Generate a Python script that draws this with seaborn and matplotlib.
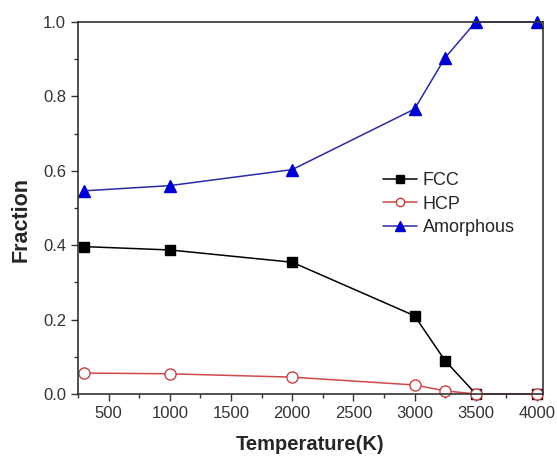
import matplotlib
matplotlib.use("Agg")
import matplotlib.pyplot as plt
import seaborn as sns
import pandas as pd
from matplotlib.ticker import MultipleLocator, FormatStrFormatter

temperature = [300, 1000, 2000, 3000, 3250, 3500, 4000]
fcc = [0.396, 0.387, 0.354, 0.210, 0.089, 0.0, 0.0]
hcp = [0.056, 0.054, 0.045, 0.024, 0.008, 0.0, 0.0]
amorphous = [0.546, 0.560, 0.603, 0.766, 0.904, 1.0, 1.0]

sns.set_style("ticks")
plt.rcParams['font.family'] = ['Liberation Sans', 'DejaVu Sans']

fig = plt.figure(figsize=(5.57, 4.58), dpi=100)
ax = fig.add_axes([0.140, 0.140, 0.835, 0.812])

series = [
    ("FCC", fcc, dict(color="black", marker="s", markersize=7, markerfacecolor="black",
                      markeredgecolor="black")),
    ("HCP", hcp, dict(color="#d04848", marker="o", markersize=8, markerfacecolor="white",
                      markeredgecolor="#c84040")),
    ("Amorphous", amorphous, dict(color="#2a2aa8", marker="^", markersize=9,
                                  markerfacecolor="#0000d0", markeredgecolor="#0000d0")),
]
for name, vals, kw in series:
    df = pd.DataFrame({"Temperature": temperature, "Fraction": vals})
    sns.lineplot(data=df, x="Temperature", y="Fraction", ax=ax, label=name,
                 linewidth=1.1, markeredgewidth=1.0, clip_on=False, **kw)

ax.set_xlim(250, 4050)
ax.set_ylim(0, 1.0)
ax.xaxis.set_major_locator(MultipleLocator(500))
ax.xaxis.set_minor_locator(MultipleLocator(250))
ax.yaxis.set_major_locator(MultipleLocator(0.2))
ax.yaxis.set_minor_locator(MultipleLocator(0.1))
ax.yaxis.set_major_formatter(FormatStrFormatter("%.1f"))
ax.tick_params(axis="both", which="major", direction="out", length=5, width=1,
               labelsize=12, colors="#333333", labelcolor="#333333")
ax.tick_params(axis="both", which="minor", direction="out", length=3, width=1, colors="#333333")
for s in ax.spines.values():
    s.set_linewidth(1.2)
    s.set_color("#333333")
ax.set_xlabel("Temperature(K)", fontsize=14.5, fontweight="bold", labelpad=10)
ax.set_ylabel("Fraction", fontsize=15.5, fontweight="bold")
ax.yaxis.set_label_coords(-0.10, 0.47)

leg = ax.legend(loc="upper left", bbox_to_anchor=(0.64, 0.615), frameon=False, fontsize=13,
                handlelength=1.9, handletextpad=0.3, labelspacing=0.35, borderaxespad=0,
                markerscale=0.75)

fig.savefig("out.png", dpi=100)
